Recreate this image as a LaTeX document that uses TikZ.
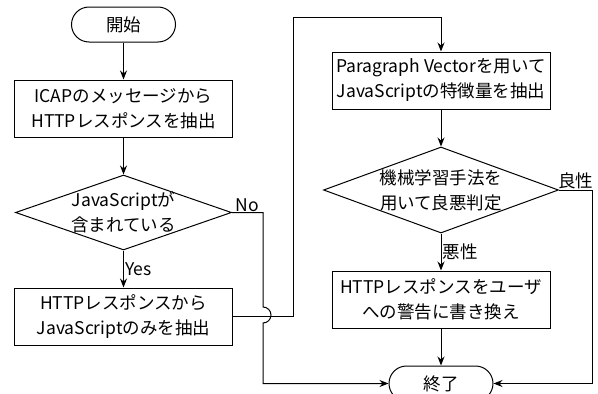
\documentclass[tikz,border=0pt]{standalone}
\usepackage{fontspec}
\setmainfont{Noto Sans CJK JP}
\usepackage{tikz}
\usetikzlibrary{positioning, shapes.geometric, arrows.meta}

\begin{document}
\begin{tikzpicture}[
    x=1pt, y=-1pt,
    node distance=37pt,
    font=\fontsize{17.5pt}{25pt}\selectfont,
    terminal/.style={rectangle, rounded corners=17.5pt, draw, line width=1pt, minimum width=104pt, minimum height=35pt, inner sep=0pt},
    process/.style={rectangle, draw, line width=1pt, minimum width=218pt, minimum height=57pt, align=center, inner sep=0pt},
    decision/.style={diamond, draw, line width=1pt, align=center, inner sep=-6pt},
    flow/.style={->, >={Stealth[length=9pt, width=7pt]}, line width=1pt}
]
    \useasboundingbox (0,0) rectangle (598,394);

    % left column
    \node[terminal] (start) at (123.5,24.5) {開始};
    \node[process, below=of start] (extract) {ICAPのメッセージから\\HTTPレスポンスを抽出};
    \node[decision, below=of extract, minimum width=216pt, minimum height=75pt, aspect=2.88] (hasjs) {JavaScriptが\\含まれている};
    \node[process, below=of hasjs] (jsonly) {HTTPレスポンスから\\JavaScriptのみを抽出};

    % right column
    \node[process] (feature) at (441,80.5) {Paragraph Vectorを用いて\\JavaScriptの特徴量を抽出};
    \node[decision, below=of feature, minimum width=235pt, minimum height=86pt, aspect=2.73] (judge) {機械学習手法を\\用いて良悪判定};
    \node[process, below=of judge] (rewrite) {HTTPレスポンスをユーザ\\への警告に書き換え};
    \node[terminal, below=of rewrite] (end) {終了};

    \coordinate (nojump) at (263,315);
    \coordinate (route) at (293,17);
    \coordinate (rightrail) at (592,0);

    \draw[flow] (start) -- (extract);
    \draw[flow] (extract) -- (hasjs);
    \draw[flow] (hasjs) -- node[right, xshift=-2pt] {Yes} (jsonly);
    \draw[flow] (hasjs.east) -- node[above, yshift=-3pt] {No} (hasjs.east -| nojump)
        -- ([yshift=8pt]nojump) arc[start angle=90, end angle=-90, radius=8pt]
        -- (nojump |- end.west) -- (end.west);
    \draw[flow] (jsonly.east) -| (route) -| (feature.north);

    \draw[flow] (feature) -- (judge);
    \draw[flow] (judge) -- node[right, xshift=-2pt] {悪性} (rewrite);
    \draw[flow] (rewrite) -- (end);
    \draw[flow] (judge.east) -- node[above, yshift=-3pt] {良性} (judge.east -| rightrail)
        -- (rightrail |- end.east) -- (end.east);
\end{tikzpicture}
\end{document}
